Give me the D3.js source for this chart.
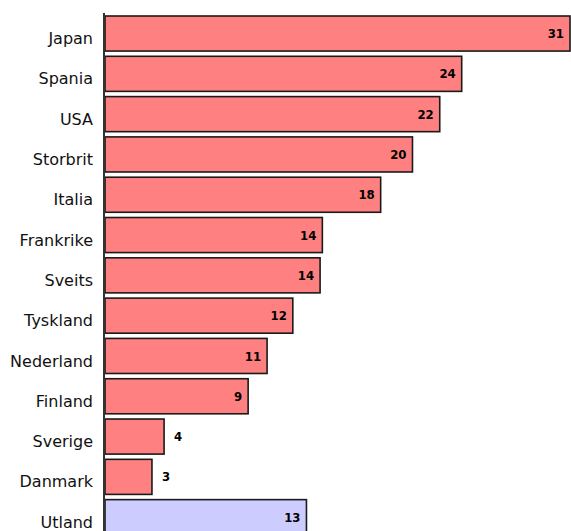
<!DOCTYPE html>
<html>
<head>
  <meta charset="utf-8">
  <title>Land</title>
  <script src="https://d3js.org/d3.v7.min.js"></script>
  <style>
    body {
      margin: 0;
      padding: 0;
      background-color: white;
      overflow: hidden;
    }
    .cat-label {
      font-family: "DejaVu Sans", sans-serif;
      font-size: 16px;
      fill: #111;
    }
    .val-label {
      font-family: "DejaVu Sans Condensed", "DejaVu Sans", sans-serif;
      font-size: 13px;
      font-weight: bold;
      fill: #000;
    }
  </style>
</head>
<body>

  <div id="chart"></div>

  <script>
    // Data
    var categories = ["Japan", "Spania", "USA", "Storbrit", "Italia", "Frankrike", "Sveits",
                      "Tyskland", "Nederland", "Finland", "Sverige", "Danmark", "Utland"];
    var values = [30.7, 23.55, 22.1, 20.3, 18.2, 14.35, 14.2, 12.4, 10.7, 9.45, 3.9, 3.1, 13.3];
    var labels = ["31", "24", "22", "20", "18", "14", "14", "12", "11", "9", "4", "3", "13"];
    var highlight = ["Utland"];

    var width = 571,
        height = 531;

    var svg = d3.select("#chart")
      .append("svg")
        .attr("width", width)
        .attr("height", height);

    var x = d3.scaleLinear()
        .domain([0, 30.7])
        .range([105, 570]);

    var y = d3.scaleBand()
        .domain(categories)
        .range([16, 534.7])
        .paddingInner(0.13)
        .paddingOuter(0);

    // bars
    svg.selectAll(".bar")
        .data(values)
      .enter().append("rect")
        .attr("class", "bar")
        .attr("x", x(0))
        .attr("y", function(d, i) { return y(categories[i]); })
        .attr("width", function(d) { return x(d) - x(0); })
        .attr("height", y.bandwidth())
        .attr("fill", function(d, i) { return highlight.indexOf(categories[i]) >= 0 ? "#ccccff" : "#ff8080"; })
        .attr("stroke", "#1a1a1a")
        .attr("stroke-width", 1.6);

    // value labels, inside the bar if there is room
    svg.selectAll(".val-label")
        .data(values)
      .enter().append("text")
        .attr("class", "val-label")
        .attr("x", function(d) { return (x(d) - x(0)) > 60 ? x(d) - 6 : x(d) + 10; })
        .attr("y", function(d, i) { return y(categories[i]) + y.bandwidth() / 2; })
        .attr("dy", "0.35em")
        .style("text-anchor", function(d) { return (x(d) - x(0)) > 60 ? "end" : "start"; })
        .text(function(d, i) { return labels[i]; });

    // category labels
    svg.selectAll(".cat-label")
        .data(categories)
      .enter().append("text")
        .attr("class", "cat-label")
        .attr("x", 93)
        .attr("y", function(d) { return y(d) + y.bandwidth() / 2 + 5; })
        .attr("dy", "0.35em")
        .style("text-anchor", "end")
        .text(function(d) { return d; });

    // left axis line
    svg.append("line")
        .attr("x1", 104).attr("x2", 104)
        .attr("y1", 13).attr("y2", height)
        .attr("stroke", "#333")
        .attr("stroke-width", 2);
  </script>

</body>
</html>
